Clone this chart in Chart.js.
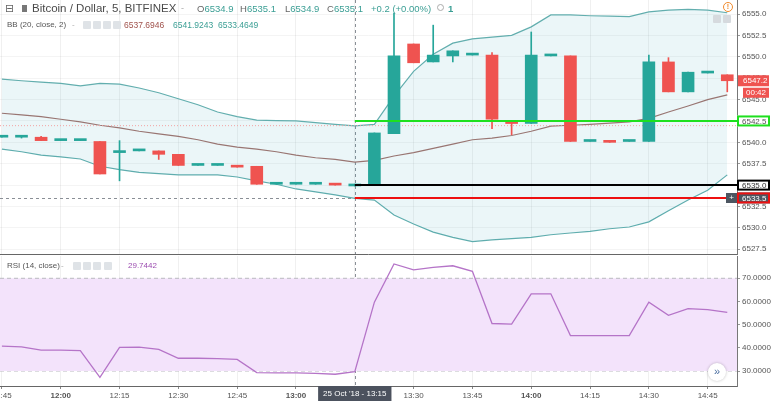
<!DOCTYPE html>
<html>
<head>
<meta charset="utf-8">
<script src="https://cdn.jsdelivr.net/npm/chart.js@4.4.0/dist/chart.umd.min.js"></script>
<style>
    body {margin: 0; background: #fff; font-family: "Liberation Sans", Arial, sans-serif;}
    #wrap {position: relative; width: 773px; height: 407px; overflow: hidden; background: #fff;}
    canvas {position: absolute; left: 0;}
    .t {position: absolute; white-space: nowrap; line-height: 1;}
    .ic {position: absolute; width: 8px; height: 8px; background: #dfe3e7; border-radius: 1px;}
    .teal {color: #3a9e94;}
    .gray {color: #666;}
</style>
</head>
<body>
<div id="wrap">
    <canvas id="mainChart" width="773" height="255" style="top:0"></canvas>
    <canvas id="rsiChart" width="773" height="152" style="top:255px"></canvas>

    <!-- legend line 1 -->
    <span class="t gray" style="left:5px;top:3px;font-size:11px;font-family:'DejaVu Sans'">⊟</span>
    <span style="position:absolute;left:22px;top:5px;width:5px;height:7px;background:#777"></span>
    <span class="t" style="left:32px;top:3px;font-size:11.5px;color:#4a4a4a">Bitcoin / Dollar, 5, BITFINEX</span>
    <span class="t" style="left:181px;top:4px;font-size:9px;color:#aaa">-</span>
    <span class="t" style="left:197px;top:4px;font-size:9.5px"><span class="gray">O</span><span class="teal">6534.9</span></span>
    <span class="t" style="left:240px;top:4px;font-size:9.5px"><span class="gray">H</span><span class="teal">6535.1</span></span>
    <span class="t" style="left:285px;top:4px;font-size:9.5px"><span class="gray">L</span><span class="teal">6534.9</span></span>
    <span class="t" style="left:327px;top:4px;font-size:9.5px"><span class="gray">C</span><span class="teal">6535.1</span></span>
    <span class="t teal" style="left:371px;top:4px;font-size:9.5px">+0.2 (+0.00%)</span>
    <span style="position:absolute;left:437px;top:4px;width:5px;height:5px;border:1px solid #aaa;border-radius:50%"></span>
    <span class="t teal" style="left:448px;top:4px;font-size:9.5px;font-weight:bold">1</span>

    <!-- legend line 2 -->
    <span class="t" style="left:7px;top:21px;font-size:8px;color:#555">BB (20, close, 2)</span>
    <span class="t" style="left:72px;top:21px;font-size:8px;color:#aaa">-</span>
    <span class="ic" style="left:83px;top:21px"></span>
    <span class="ic" style="left:93px;top:21px"></span>
    <span class="ic" style="left:103px;top:21px"></span>
    <span class="ic" style="left:113px;top:21px"></span>
    <span class="t" style="left:124px;top:21px;font-size:8.5px;color:#a0524c">6537.6946</span>
    <span class="t teal" style="left:173px;top:21px;font-size:8.5px">6541.9243</span>
    <span class="t teal" style="left:218px;top:21px;font-size:8.5px">6533.4649</span>

    <!-- rsi legend -->
    <span class="t" style="left:7px;top:262px;font-size:8px;color:#555">RSI (14, close)</span>
    <span class="t" style="left:61px;top:262px;font-size:8px;color:#aaa">-</span>
    <span class="ic" style="left:73px;top:262px"></span>
    <span class="ic" style="left:83px;top:262px"></span>
    <span class="ic" style="left:93px;top:262px"></span>
    <span class="ic" style="left:104px;top:262px"></span>
    <span class="t" style="left:128px;top:262px;font-size:8px;color:#9c4db0">29.7442</span>

    <!-- corner icons -->
    <span style="position:absolute;left:723px;top:2px;width:8px;height:8px;border:1px solid #f08a2c;border-radius:50%;color:#f08a2c;font-size:7px;line-height:8px;text-align:center;font-weight:bold">!</span>
    <span class="ic" style="left:713px;top:15px;background:#d6dade"></span>
    <span class="ic" style="left:723px;top:15px;background:#d6dade"></span>
    <span style="position:absolute;left:726px;top:193px;width:11px;height:10px;background:#4d5661;color:#fff;font-size:8px;line-height:10px;text-align:center">+</span>
    <span style="position:absolute;left:708px;top:363px;width:18px;height:18px;border-radius:50%;background:#fff;box-shadow:0 0 3px rgba(0,0,0,0.25);color:#4a6ea0;font-size:11px;line-height:16px;text-align:center">»</span>
</div>
<script>
/*** Data ***/
const times = ['11:45','11:50','11:55','12:00','12:05','12:10','12:15','12:20','12:25','12:30','12:35','12:40','12:45','12:50','12:55','13:00','13:05','13:10','13:15','13:20','13:25','13:30','13:35','13:40','13:45','13:50','13:55','14:00','14:05','14:10','14:15','14:20','14:25','14:30','14:35','14:40','14:45','14:50'];
const openP  = [6540.6,6540.6,6540.6,6540.2,6540.2,6540.1,6538.8,6539.0,6539.0,6538.6,6537.3,6537.3,6537.3,6537.2,6535.1,6535.1,6535.1,6535.1,6534.9,6535.1,6541.0,6551.5,6549.4,6550.1,6550.2,6550.2,6542.4,6542.2,6550.1,6550.1,6540.1,6540.1,6540.1,6540.1,6549.4,6545.9,6548.1,6547.9];
const highP  = [6540.7,6540.7,6540.7,6540.2,6540.2,6540.1,6540.2,6539.0,6539.0,6538.6,6537.3,6537.3,6537.3,6537.2,6535.1,6535.1,6535.1,6535.1,6535.1,6541.1,6555.1,6551.5,6553.7,6550.7,6550.2,6550.5,6542.5,6552.9,6550.1,6550.1,6540.1,6540.1,6540.1,6550.2,6549.9,6548.2,6548.3,6547.9];
const lowP   = [6540.6,6540.5,6540.2,6540.2,6540.2,6536.3,6535.5,6539.0,6538.0,6537.3,6537.3,6537.3,6537.1,6535.1,6535.1,6535.1,6535.1,6535.0,6534.9,6535.1,6541.0,6549.3,6549.4,6549.4,6550.2,6541.6,6540.9,6542.2,6550.1,6540.1,6540.1,6540.0,6540.1,6540.1,6545.9,6545.9,6548.1,6545.9];
const closeP = [6540.6,6540.6,6540.2,6540.2,6540.2,6536.3,6538.8,6539.0,6538.6,6537.3,6537.3,6537.3,6537.1,6535.1,6535.1,6535.1,6535.1,6535.0,6535.1,6541.1,6550.1,6549.3,6550.2,6550.7,6550.2,6542.7,6542.2,6550.2,6550.1,6540.1,6540.1,6540.0,6540.1,6549.4,6545.9,6548.2,6548.1,6547.2];

const bbUpper = [6547.4,6547.2,6547.05,6546.9,6546.6,6546.9,6546.8,6546.35,6545.8,6545.1,6544.4,6543.55,6543.0,6542.6,6542.55,6542.5,6542.3,6542.1,6541.92,6542.1,6545.4,6548.3,6550.3,6551.6,6552.1,6552.3,6552.5,6553.5,6554.9,6554.9,6554.8,6554.75,6554.7,6555.25,6555.45,6555.55,6555.45,6555.15];
const bbBasis = [6543.4,6543.2,6543.0,6542.7,6542.4,6542.0,6541.7,6541.3,6541.0,6540.7,6540.3,6539.8,6539.45,6539.2,6538.9,6538.5,6538.2,6538.0,6537.69,6537.9,6538.4,6538.8,6539.3,6539.8,6540.3,6540.5,6540.8,6541.3,6541.9,6542.0,6542.1,6542.25,6542.4,6542.8,6543.55,6544.25,6545.0,6545.55];
const bbLower = [6539.2,6538.9,6538.5,6538.3,6538.05,6537.2,6536.8,6536.5,6536.35,6536.2,6536.2,6536.2,6535.95,6535.5,6535.1,6534.55,6534.2,6533.85,6533.46,6533.25,6531.5,6530.45,6529.5,6528.9,6528.4,6528.6,6528.75,6528.9,6529.2,6529.4,6529.6,6529.9,6530.1,6530.7,6532.0,6533.25,6534.4,6536.2];

const rsiValues = [40.7,40.4,39.0,39.0,38.8,27.3,40.2,40.3,39.3,35.5,35.5,35.3,35.0,29.3,29.2,29.2,29.0,28.6,29.74,59.7,76.2,73.6,74.7,75.4,73.0,50.5,50.2,63.3,63.3,45.3,45.3,45.3,45.3,59.7,54.0,56.9,56.5,55.3];
const rsiBands = [70, 30];

const timeTicks = ['11:45','12:00','12:15','12:30','12:45','13:00','13:15','13:30','13:45','14:00','14:15','14:30','14:45'];

/*** Drawn levels and crosshair ***/
const levelPrices = [6542.5, 6535.0, 6533.5];
const levelText = ['6542.5', '6535.0', '6533.5'];
const levelFrom = '13:15';
const prevLine = 6541.95;
const crossTime = '13:15';
const crossPrice = 6533.5;
const crossLabel = "25 Oct '18 - 13:15";
const countdown = '00:42';

/*** Styles ***/
const upColor = '#26a69a';
const downColor = '#ef5350';
const levelColors = ['#1ee01e', '#000000', '#ee1010'];
const FONT = '"Liberation Sans", Arial, sans-serif';

/*** Helpers ***/
function toMin(t) {
    var p = t.split(':');
    return (+p[0]) * 60 + (+p[1]) - (11 * 60 + 45);
}
const xs = times.map(toMin);
const xMin = -0.485, xMax = 187.48;
const candleColors = times.map((t, i) => closeP[i] >= openP[i] ? upColor : downColor);

function noPad(scale) {
    scale.paddingLeft = 0; scale.paddingRight = 0;
    scale.paddingTop = 0; scale.paddingBottom = 0;
}
function series(values) {
    return values.map((v, i) => ({x: xs[i], y: v}));
}
function flat(y, from) {
    return [{x: from, y: y}, {x: xMax, y: y}];
}
function box(ctx, x, yc, w, h, fill, stroke, text, color, pad) {
    ctx.save();
    ctx.fillStyle = fill;
    ctx.fillRect(x, yc - h / 2, w, h);
    if (stroke) {
        ctx.strokeStyle = stroke;
        ctx.lineWidth = 2;
        ctx.strokeRect(x + 1, yc - h / 2 + 1, w - 2, h - 2);
    }
    ctx.fillStyle = color;
    ctx.font = '8px ' + FONT;
    ctx.textBaseline = 'middle';
    ctx.fillText(text, x + (pad === undefined ? 5 : pad), yc + 0.5);
    ctx.restore();
}
function crossV(chart) {
    const ctx = chart.ctx, a = chart.chartArea;
    const x = Math.round(chart.scales.x.getPixelForValue(toMin(crossTime))) + 0.5;
    ctx.save();
    ctx.strokeStyle = '#8a8f96';
    ctx.lineWidth = 1;
    ctx.setLineDash([3, 3]);
    ctx.beginPath(); ctx.moveTo(x, a.top); ctx.lineTo(x, a.bottom); ctx.stroke();
    ctx.restore();
}

/*** Main chart plugin ***/
const mainPlugin = {
    id: 'mainDecor',
    beforeDatasetsDraw(chart) {
        const ctx = chart.ctx, a = chart.chartArea;
        crossV(chart);
        const y = Math.round(chart.scales.y.getPixelForValue(crossPrice)) + 0.5;
        ctx.save();
        ctx.strokeStyle = '#8a8f96';
        ctx.setLineDash([3, 3]);
        ctx.beginPath(); ctx.moveTo(a.left, y); ctx.lineTo(a.right, y); ctx.stroke();
        ctx.restore();
    },
    afterDraw(chart) {
        const ctx = chart.ctx, a = chart.chartArea, ys = chart.scales.y;
        const last = closeP.length - 1;
        const yc = ys.getPixelForValue(closeP[last]);
        box(ctx, a.right + 1, yc, 31, 11, downColor, null, closeP[last].toFixed(1), '#fff');
        box(ctx, a.right + 6, yc + 12, 26, 10, downColor, null, countdown, '#fff', 3);
        box(ctx, a.right, ys.getPixelForValue(levelPrices[0]), 33, 11, '#fff', levelColors[0], levelText[0], '#555');
        box(ctx, a.right, ys.getPixelForValue(levelPrices[1]), 33, 11, '#fff', levelColors[1], levelText[1], '#333');
        box(ctx, a.right, ys.getPixelForValue(levelPrices[2]), 33, 11, '#4d5661', levelColors[2], levelText[2], '#fff');
        ctx.save();
        ctx.strokeStyle = '#666';
        ctx.lineWidth = 1;
        ctx.beginPath(); ctx.moveTo(0, a.bottom - 0.5); ctx.lineTo(a.right, a.bottom - 0.5); ctx.stroke();
        ctx.restore();
    }
};

/*** RSI chart plugin ***/
const rsiPlugin = {
    id: 'rsiDecor',
    beforeDatasetsDraw(chart) {
        crossV(chart);
    },
    afterDraw(chart) {
        const ctx = chart.ctx, a = chart.chartArea;
        const x = chart.scales.x.getPixelForValue(toMin(crossTime));
        ctx.save();
        ctx.font = '8px ' + FONT;
        const w = ctx.measureText(crossLabel).width + 10;
        ctx.fillStyle = '#4c525e';
        ctx.fillRect(x - w / 2, a.bottom, w, 15);
        ctx.fillStyle = '#fff';
        ctx.textAlign = 'center';
        ctx.textBaseline = 'middle';
        ctx.fillText(crossLabel, x, a.bottom + 8);
        ctx.restore();
    }
};

Chart.defaults.font.family = FONT;
Chart.defaults.animation = false;

const xScale = (showTicks) => ({
    type: 'linear',
    min: xMin,
    max: xMax,
    offset: false,
    grid: {color: 'rgba(0,0,0,0.06)', offset: false, drawTicks: showTicks, tickLength: 3, tickColor: '#888'},
    border: {display: showTicks, color: '#666'},
    ticks: {
        display: showTicks,
        stepSize: 15,
        includeBounds: false,
        maxRotation: 0,
        autoSkip: false,
        padding: 2,
        color: '#555',
        font: (c) => ({size: 8, weight: (c.tick && c.tick.value % 60 === 15) ? 'bold' : 'normal'}),
        callback: (v) => timeTicks[Math.round(v / 15)]
    },
    afterFit: (s) => { noPad(s); s.height = showTicks ? 21 : 0; }
});

/*** Price chart ***/
new Chart(document.getElementById('mainChart'), {
    type: 'bar',
    data: {
        datasets: [
            {type: 'line', data: flat(levelPrices[0], toMin(levelFrom)), borderColor: levelColors[0], borderWidth: 2, pointRadius: 0},
            {type: 'line', data: flat(levelPrices[1], toMin(levelFrom)), borderColor: levelColors[1], borderWidth: 2, pointRadius: 0},
            {type: 'line', data: flat(levelPrices[2], toMin(levelFrom)), borderColor: levelColors[2], borderWidth: 2, pointRadius: 0},
            {
                label: 'body',
                data: times.map((t, i) => ({x: xs[i], y: [openP[i], closeP[i]]})),
                backgroundColor: candleColors,
                barThickness: 12,
                minBarLength: 2,
                grouped: false
            },
            {
                label: 'wick',
                data: times.map((t, i) => ({x: xs[i], y: [lowP[i], highP[i]]})),
                backgroundColor: candleColors,
                barThickness: 1,
                grouped: false
            },
            {type: 'line', data: flat(prevLine, xMin), borderColor: '#f2a3a3', borderWidth: 1, borderDash: [1, 2], pointRadius: 0},
            {type: 'line', label: 'upper', data: series(bbUpper), borderColor: '#62aeae', borderWidth: 1.2, pointRadius: 0, fill: '+2', backgroundColor: 'rgba(38,150,180,0.09)'},
            {type: 'line', label: 'basis', data: series(bbBasis), borderColor: '#a5726c', borderWidth: 1.2, pointRadius: 0, fill: false},
            {type: 'line', label: 'lower', data: series(bbLower), borderColor: '#62aeae', borderWidth: 1.2, pointRadius: 0, fill: false}
        ]
    },
    options: {
        responsive: false,
        events: [],
        layout: {padding: 0},
        plugins: {legend: {display: false}, tooltip: {enabled: false}},
        scales: {
            x: xScale(false),
            y: {
                position: 'right',
                min: 6526.83,
                max: 6556.64,
                grid: {color: 'rgba(0,0,0,0.045)', tickLength: 3, tickColor: '#999'},
                border: {color: '#777'},
                ticks: {stepSize: 2.5, includeBounds: false, padding: 2, color: '#555', font: {size: 8}, callback: (v) => v.toFixed(1)},
                afterFit: (s) => { noPad(s); s.width = 36; }
            }
        }
    },
    plugins: [mainPlugin]
});

/*** RSI chart ***/
new Chart(document.getElementById('rsiChart'), {
    type: 'line',
    data: {
        datasets: [
            {data: series(rsiValues), borderColor: '#b574c8', borderWidth: 1.3, pointRadius: 0, fill: false},
            {data: flat(rsiBands[0], xMin), borderColor: '#b9b9bf', borderWidth: 1, borderDash: [4, 3], pointRadius: 0, fill: '+1', backgroundColor: '#f3e3fb'},
            {data: flat(rsiBands[1], xMin), borderColor: '#b9b9bf', borderWidth: 1, borderDash: [4, 3], pointRadius: 0, fill: false}
        ]
    },
    options: {
        responsive: false,
        events: [],
        layout: {padding: {top: 1}},
        plugins: {legend: {display: false}, tooltip: {enabled: false}},
        scales: {
            x: xScale(true),
            y: {
                position: 'right',
                min: 23.53,
                max: 79.62,
                grid: {color: (c) => (c.tick && (c.tick.value === 70 || c.tick.value === 30)) ? 'rgba(0,0,0,0)' : 'rgba(0,0,0,0.05)', tickLength: 3, tickColor: '#999'},
                border: {color: '#777'},
                ticks: {stepSize: 10, includeBounds: false, padding: 2, color: '#555', font: {size: 8}, callback: (v) => v.toFixed(4)},
                afterFit: (s) => { noPad(s); s.width = 36; }
            }
        }
    },
    plugins: [rsiPlugin]
});
</script>
</body>
</html>
